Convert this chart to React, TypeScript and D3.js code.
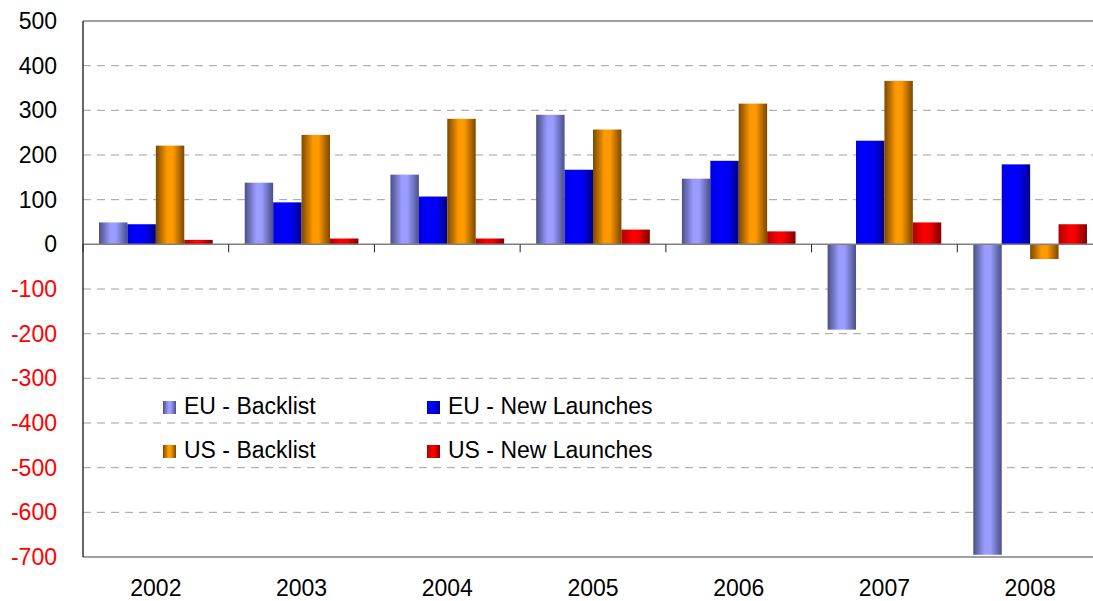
import React from "react";
import * as d3 from "d3";

const years = ["2002", "2003", "2004", "2005", "2006", "2007", "2008"];
const euBacklist = [49, 138, 156, 290, 147, -191, -695];
const euNewLaunches = [45, 94, 107, 167, 187, 232, 179];
const usBacklist = [221, 245, 281, 257, 315, 366, -33];
const usNewLaunches = [10, 13, 13, 33, 29, 49, 45];
const seriesNames = ["EU - Backlist", "EU - New Launches", "US - Backlist", "US - New Launches"];
const yTicks = [500, 400, 300, 200, 100, 0, -100, -200, -300, -400, -500, -600, -700];

const W = 1093;
const H = 601;
const FONT = "'Liberation Sans', Arial, sans-serif";

const gradients = [
  { id: "gEuB", stops: [["0%", "#4a4f85"], ["40%", "#9a9cff"], ["60%", "#9a9cff"], ["100%", "#4a4f85"]] },
  { id: "gEuN", stops: [["0%", "#0000e0"], ["35%", "#0000ff"], ["65%", "#0000f0"], ["100%", "#000080"]] },
  { id: "gUsB", stops: [["0%", "#7a4800"], ["40%", "#ff9900"], ["60%", "#ff9900"], ["100%", "#7a4800"]] },
  { id: "gUsN", stops: [["0%", "#b00000"], ["40%", "#ff0000"], ["60%", "#f00000"], ["100%", "#800000"]] },
];

export default function App() {
  const left = 83;
  const right = 1103;
  const top = 21;
  const bottom = 557;

  const x = d3.scaleBand<string>().domain(years).range([left, right]).paddingInner(0.22).paddingOuter(0.11);
  const x1 = d3.scaleBand<string>().domain(seriesNames).range([0, x.bandwidth()]).padding(0);
  const y = d3.scaleLinear().domain([-700, 500]).range([bottom, top]);
  const data = [euBacklist, euNewLaunches, usBacklist, usNewLaunches];
  const step = x.step();
  const y0 = y(0);

  const legendItems = [
    { name: seriesNames[0], g: "gEuB", sx: 163, tx: 184, yb: 414 },
    { name: seriesNames[1], g: "gEuN", sx: 427, tx: 448, yb: 414 },
    { name: seriesNames[2], g: "gUsB", sx: 163, tx: 184, yb: 458 },
    { name: seriesNames[3], g: "gUsN", sx: 427, tx: 448, yb: 458 },
  ];

  return (
    <svg width={W} height={H} style={{ position: "absolute", left: 0, top: 0, background: "#fff" }} fontFamily={FONT}>
      <defs>
        {gradients.map((g) => (
          <linearGradient key={g.id} id={g.id} x1="0" x2="1" y1="0" y2="0">
            {g.stops.map(([o, c]) => (
              <stop key={o} offset={o} stopColor={c} />
            ))}
          </linearGradient>
        ))}
      </defs>
      {yTicks.filter((t) => t !== 0 && t !== 500 && t !== -700).map((t) => (
        <line key={t} x1={left} x2={right} y1={y(t)} y2={y(t)} stroke="#a0a0a0" strokeWidth={1} strokeDasharray="8,6" />
      ))}
      <line x1={left} x2={right} y1={y(500)} y2={y(500)} stroke="#808080" strokeWidth={1.5} />
      {data.map((vals, si) =>
        vals.map((v, i) => {
          const bx = (x(years[i]) as number) + (x1(seriesNames[si]) as number);
          const by = Math.min(y(v), y0);
          const bh = Math.abs(y(v) - y0);
          return <rect key={si + "-" + i} x={bx} y={by} width={x1.bandwidth()} height={bh} fill={`url(#${gradients[si].id})`} />;
        })
      )}
      <line x1={left} x2={right} y1={y0} y2={y0} stroke="#808080" strokeWidth={1.5} />
      {years.map((yr, i) => (
        <line key={"tk" + i} x1={left + step * i} x2={left + step * i} y1={y0} y2={y0 + 8} stroke="#222" strokeWidth={1} />
      ))}
      <line x1={left} x2={right} y1={bottom} y2={bottom} stroke="#808080" strokeWidth={1.5} />
      <line x1={left} x2={left} y1={top} y2={bottom} stroke="#333" strokeWidth={1.5} />
      {yTicks.map((t) => (
        <text key={"yl" + t} x={57} y={y(t) + 8} textAnchor="end" fontSize={23} fill={t < 0 ? "#ff0000" : "#000"}>
          {t}
        </text>
      ))}
      {years.map((yr) => (
        <text key={"xl" + yr} x={(x(yr) as number) + x.bandwidth() / 2} y={596} textAnchor="middle" fontSize={23} fill="#000">
          {yr}
        </text>
      ))}
      {legendItems.map((it) => (
        <g key={it.name}>
          <rect x={it.sx} y={it.yb - 13} width={13} height={13} fill={`url(#${it.g})`} />
          <text x={it.tx} y={it.yb} fontSize={23} fill="#000">
            {it.name}
          </text>
        </g>
      ))}
    </svg>
  );
}
